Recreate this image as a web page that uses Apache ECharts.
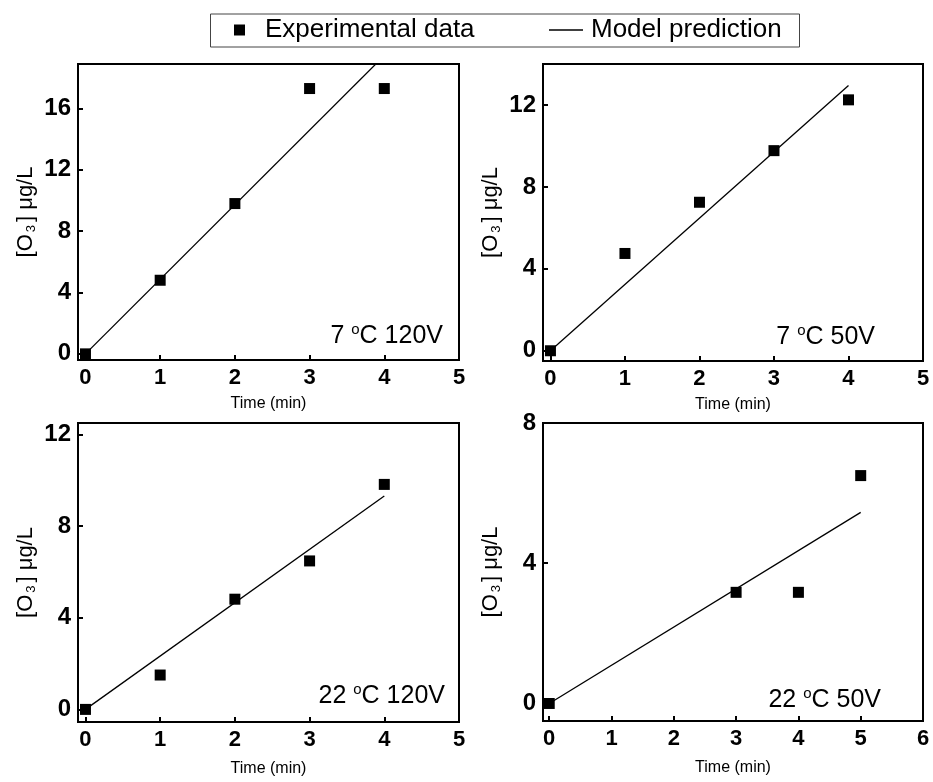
<!DOCTYPE html>
<html><head><meta charset="utf-8">
<script src="https://cdn.jsdelivr.net/npm/echarts@6/dist/echarts.min.js"></script>
<style>html,body{margin:0;padding:0;background:#fff}#c{width:933px;height:782px}</style>
</head><body><div id="c"></div>
<script>
// ---- data ----
const p1Time = [0, 1, 2, 3, 4];
const p1Exp = [0, 4.8, 9.8, 17.3, 17.3];
const p1ModelTime = [0, 4];
const p1Model = [0, 19.45];

const p2Time = [0, 1, 2, 3, 4];
const p2Exp = [0, 4.75, 7.25, 9.77, 12.25];
const p2ModelTime = [0, 4];
const p2Model = [0, 12.95];

const p3Time = [0, 1, 2, 3, 4];
const p3Exp = [0, 1.5, 4.81, 6.48, 9.82];
const p3ModelTime = [0, 4];
const p3Model = [0, 9.31];

const p4Time = [0, 3, 4, 5];
const p4Exp = [0, 3.17, 3.17, 6.5];
const p4ModelTime = [0, 5];
const p4Model = [0, 5.45];

const xTicksA = [0, 1, 2, 3, 4, 5];
const xTicksB = [0, 1, 2, 3, 4, 5, 6];
const yTicks1 = [0, 4, 8, 12, 16];
const yTicks2 = [0, 4, 8, 12];
const yTicks3 = [0, 4, 8, 12];
const yTicks4 = [0, 4, 8];

const panelLabels = [['7 ', 'C 120V'], ['7 ', 'C 50V'], ['22 ', 'C 120V'], ['22 ', 'C 50V']];
const xName = 'Time (min)';
const expName = 'Experimental data';
const modelName = 'Model prediction';

const FONT = '"Liberation Sans", Arial, sans-serif';
const zip = (a, b) => a.map((v, i) => [v, b[i]]);

const grids = [
  {left: 78, top: 64, width: 381, height: 296},
  {left: 543, top: 64, width: 380, height: 297},
  {left: 78, top: 423, width: 381, height: 299},
  {left: 543, top: 423, width: 380, height: 298}
];
const xRanges = [[-0.1, 5, xTicksA], [-0.1, 5, xTicksA], [-0.1, 5, xTicksA], [-0.1, 6, xTicksB]];
const yRanges = [[-0.4, 18.9, yTicks1], [-0.5, 14, yTicks2], [-0.55, 12.5, yTicks3], [-0.5, 8, yTicks4]];
const xGaps = [36, 36, 39, 39];

const xAxes = xRanges.map((r, i) => ({
  type: 'value', gridIndex: i, min: r[0], max: r[1],
  name: xName, nameLocation: 'middle', nameGap: xGaps[i],
  nameTextStyle: {fontFamily: FONT, fontSize: 16, color: '#000'},
  axisLine: {show: true, onZero: false, lineStyle: {color: '#000', width: 2}},
  axisTick: {show: true, inside: true, length: 5, customValues: r[2], lineStyle: {color: '#000', width: 2}},
  axisLabel: {customValues: r[2], fontFamily: FONT, fontSize: 22, fontWeight: 'bold', color: '#000', margin: 7},
  splitLine: {show: false}
}));
const yAxes = yRanges.map((r, i) => ({
  type: 'value', gridIndex: i, min: r[0], max: r[1],
  name: '[O{sub|3}] μg/L', nameLocation: 'middle', nameGap: 40, nameRotate: 90,
  nameTextStyle: {fontFamily: FONT, fontSize: 22, color: '#000',
    rich: {sub: {fontFamily: FONT, fontSize: 13, color: '#000', padding: [11, 3, 0, 2]}}},
  axisLine: {show: true, onZero: false, lineStyle: {color: '#000', width: 2}},
  axisTick: {show: true, inside: true, length: 5, customValues: r[2], lineStyle: {color: '#000', width: 2}},
  axisLabel: {customValues: r[2], fontFamily: FONT, fontSize: 24, fontWeight: 'bold', color: '#000', margin: 7},
  splitLine: {show: false}
}));

const expSets = [zip(p1Time, p1Exp), zip(p2Time, p2Exp), zip(p3Time, p3Exp), zip(p4Time, p4Exp)];
const modelSets = [zip(p1ModelTime, p1Model), zip(p2ModelTime, p2Model), zip(p3ModelTime, p3Model), zip(p4ModelTime, p4Model)];

const series = [];
for (let i = 0; i < 4; i++) {
  series.push({
    name: modelName, type: 'line', xAxisIndex: i, yAxisIndex: i, data: modelSets[i],
    symbol: 'none', clip: true, lineStyle: {color: '#000', width: 1.3}, itemStyle: {color: '#000'}, z: 2
  });
  series.push({
    name: expName, type: 'scatter', xAxisIndex: i, yAxisIndex: i, data: expSets[i],
    symbol: 'rect', symbolSize: 11, itemStyle: {color: '#000', opacity: 1}, z: 3
  });
}

const labelPos = [[443, 336], [875, 337], [445, 696], [881, 700]];
const graphics = [
  {type: 'rect', left: 208, top: 11.5, shape: {width: 589, height: 33}, style: {fill: 'none', stroke: '#444', lineWidth: 1}, z: 10}
];
labelPos.forEach((p, i) => {
  graphics.push({
    type: 'text', x: p[0], y: p[1], z: 10,
    style: {
      text: panelLabels[i][0] + '{sup|o}' + panelLabels[i][1],
      fontFamily: FONT, fontSize: 25, fill: '#000', align: 'right', verticalAlign: 'middle',
      rich: {sup: {fontFamily: FONT, fontSize: 15, fill: '#000', padding: [0, 0, 13, 0]}}
    }
  });
});

const chart = echarts.init(document.getElementById('c'), null, {renderer: 'canvas'});
chart.setOption({
  animation: false,
  backgroundColor: '#fff',
  grid: grids.map(g => Object.assign({show: true, borderColor: '#000', borderWidth: 2, backgroundColor: 'transparent'}, g)),
  xAxis: xAxes,
  yAxis: yAxes,
  legend: [
    {data: [{name: expName, icon: 'rect'}], left: 234, top: 17, padding: 0, itemWidth: 11, itemHeight: 11,
      textStyle: {fontFamily: FONT, fontSize: 26, color: '#000', padding: [0, 0, 0, 15]}},
    {data: [{name: modelName, icon: 'rect'}], left: 549, top: 17, padding: 0, itemWidth: 34, itemHeight: 1.3,
      textStyle: {fontFamily: FONT, fontSize: 26, color: '#000', padding: [0, 0, 0, 3]}}
  ],
  graphic: graphics,
  series: series
});
</script>
</body></html>
